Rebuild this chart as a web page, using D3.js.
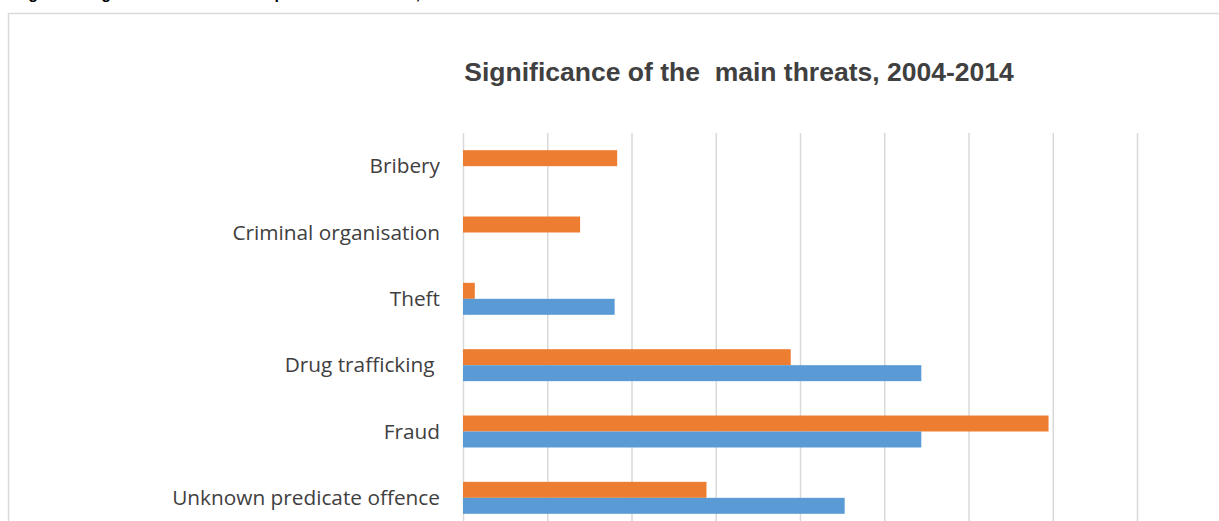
<!DOCTYPE html>
<html>
<head>
<meta charset="utf-8">
<script src="https://cdn.jsdelivr.net/npm/d3@7"></script>
<style>
  body { margin: 0; background: #fff; }
  .x-axis line { stroke: #d9d9d9; stroke-width: 1.5; }
  .x-axis .domain { display: none; }
</style>
</head>
<body>
<div id="chart"></div>
<script>
// data
const categories = ["Bribery", "Criminal organisation", "Theft", "Drug trafficking ", "Fraud", "Unknown predicate offence"];
const seriesNames = ["Later assessment", "Earlier assessment"]; // orange, blue (legend not visible)
const orangeValues = [1.83, 1.39, 0.14, 3.89, 6.95, 2.89];
const blueValues = [0, 0, 1.8, 5.44, 5.44, 4.53];
const tickValues = [0, 1, 2, 3, 4, 5, 6, 7, 8];

let width = 1219,
    height = 521,
    margin = ({ top: 133, right: 82, bottom: -10, left: 463 });

const svg = d3.select("#chart")
  .append("svg")
  .attr("width", width)
  .attr("height", height);

// chart frame
svg.append("rect")
  .attr("x", 8.5).attr("y", 13.5)
  .attr("width", 1300).attr("height", 600)
  .attr("fill", "none")
  .attr("stroke", "#d9d9d9")
  .attr("stroke-width", 1.5);

// page heading above the frame, cut off by the top edge (only descenders show)
svg.append("text")
  .attr("x", 14).attr("y", -1.5)
  .attr("font-family", "Liberation Sans, Arial, sans-serif")
  .attr("font-weight", "bold")
  .attr("font-size", 16)
  .text("Figure 4: Significance of the main predicate offences, 2004-2014");

let x = d3.scaleLinear()
  .domain([0, 8])
  .range([margin.left, width - margin.right]);

let y = d3.scaleBand()
  .domain(categories)
  .range([margin.top, height - margin.bottom])
  .paddingInner(0.518)
  .paddingOuter(0.259);

let sub = d3.scaleBand()
  .domain(seriesNames)
  .range([0, y.bandwidth()]);

const color = d3.scaleOrdinal()
  .domain(seriesNames)
  .range(["#ed7d31", "#5b9bd5"]);

svg.append("g") // gridlines, tick labels fall below the visible area
  .attr("class", "x-axis")
  .attr("transform", `translate(0,${height - margin.bottom})`)
  .call(d3.axisBottom(x).tickValues(tickValues).tickFormat("").tickSize(-(height - margin.bottom - margin.top)));

// title
svg.append("text")
  .attr("x", 739).attr("y", 81)
  .attr("text-anchor", "middle")
  .attr("font-family", "Liberation Sans, Arial, sans-serif")
  .attr("font-weight", "bold")
  .attr("font-size", 26.5)
  .attr("fill", "#404040")
  .style("white-space", "pre")
  .text("Significance of the  main threats, 2004-2014");

// category labels
svg.append("g")
  .selectAll("text")
  .data(categories)
  .join("text")
  .attr("x", margin.left - 23)
  .attr("y", d => y(d) + y.bandwidth() / 2)
  .attr("dy", "0.35em")
  .attr("text-anchor", "end")
  .attr("font-family", "Open Sans, sans-serif")
  .attr("font-size", 20.8)
  .attr("fill", "#404040")
  .style("white-space", "pre")
  .text(d => d);

const rows = categories.map((c, i) => ({ cat: c, values: [orangeValues[i], blueValues[i]] }));

svg.append("g")
  .selectAll("g")
  .data(rows)
  .join("g")
  .attr("transform", d => `translate(0,${y(d.cat)})`)
  .selectAll("rect")
  .data(d => d.values.map((v, j) => ({ key: seriesNames[j], value: v })))
  .join("rect")
  .attr("x", x(0))
  .attr("y", d => sub(d.key))
  .attr("width", d => x(d.value) - x(0))
  .attr("height", sub.bandwidth())
  .attr("fill", d => color(d.key));
</script>
</body>
</html>
